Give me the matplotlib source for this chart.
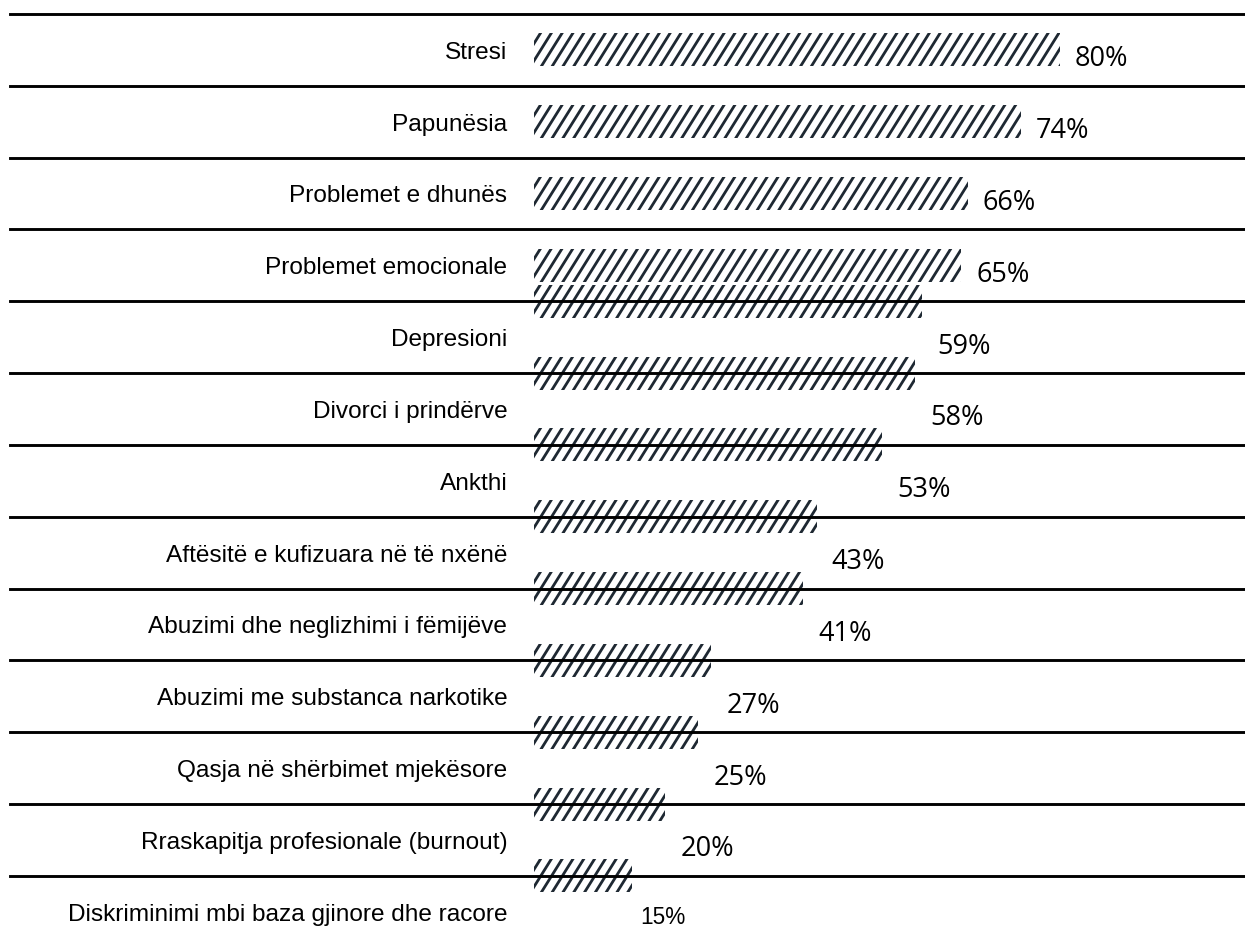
import matplotlib
matplotlib.use("Agg")
import matplotlib.pyplot as plt
import numpy as np
from matplotlib.collections import LineCollection
from matplotlib.transforms import IdentityTransform

categories = [
    "Stresi",
    "Papunësia",
    "Problemet e dhunës",
    "Problemet emocionale",
    "Depresioni",
    "Divorci i prindërve",
    "Ankthi",
    "Aftësitë e kufizuara në të nxënë",
    "Abuzimi dhe neglizhimi i fëmijëve",
    "Abuzimi me substanca narkotike",
    "Qasja në shërbimet mjekësore",
    "Rraskapitja profesionale (burnout)",
    "Diskriminimi mbi baza gjinore dhe racore",
]
values = [80, 74, 66, 65, 59, 58, 53, 43, 41, 27, 25, 20, 15]
pct_labels = [f"{v}%" for v in values]

DPI = 130
HATCH_COLOR = "#1e2832"
HATCH_STEP_PX = 10.8     # horizontal distance between stripes
HATCH_ANGLE = np.deg2rad(58)
HATCH_LW = 1.55          # points


def hatch_bar(ax, rect):
    """Steep diagonal stripes clipped to one bar (drawn in pixel space)."""
    (x0, y0), (x1, y1) = ax.transData.transform(
        [(rect.get_x(), rect.get_y()),
         (rect.get_x() + rect.get_width(), rect.get_y() + rect.get_height())])
    ylo, yhi = min(y0, y1), max(y0, y1)
    run = (yhi - ylo) / np.tan(HATCH_ANGLE)
    start = np.floor((min(x0, x1) - run) / HATCH_STEP_PX) * HATCH_STEP_PX
    xs = np.arange(start, max(x0, x1) + HATCH_STEP_PX, HATCH_STEP_PX)
    segs = [[(x, ylo - 2), (x + run * (1 + 4 / (yhi - ylo)), yhi + 2)] for x in xs]
    lc = LineCollection(segs, colors=HATCH_COLOR, linewidths=HATCH_LW,
                        transform=IdentityTransform(), zorder=2.5)
    ax.add_collection(lc)
    lc.set_clip_path(rect)


fig = plt.figure(figsize=(1245 / DPI, 939 / DPI), dpi=DPI)
ax = fig.add_axes([0, 0, 1, 1])
ax.set_xlim(-81.1, 108.1)
ax.set_ylim(12.378, -0.695)
ax.axis("off")

n = len(categories)
rows = list(range(n))
# from the fifth row on, the bars sit on the row separator
bar_y = [i if i < 4 else i - 0.5 for i in rows]

bars = ax.barh(bar_y, values, height=0.46, left=0, color="white",
               linewidth=0, zorder=2)
for rect in bars:
    hatch_bar(ax, rect)

for i in rows:
    ax.axhline(i - 0.5, xmin=10 / 1245, xmax=1, color="black", lw=1.6, zorder=3)
    ax.annotate(categories[i], xy=(-4.0, i), xytext=(0, -1.6),
                textcoords="offset points", ha="right", va="center",
                fontsize=13.5, family="Liberation Sans", color="black")
    if i == n - 1:
        ax.annotate(pct_labels[i], xy=(values[i], i), xytext=(4.4, -3),
                    textcoords="offset points", ha="left", va="center",
                    fontsize=12.5, family="Liberation Sans", color="black")
    else:
        ax.annotate(pct_labels[i], xy=(values[i], i), xytext=(8.3, -5.2),
                    textcoords="offset points", ha="left", va="center",
                    fontsize=15, family="Open Sans", color="black")

fig.savefig("out.png", dpi=DPI)
